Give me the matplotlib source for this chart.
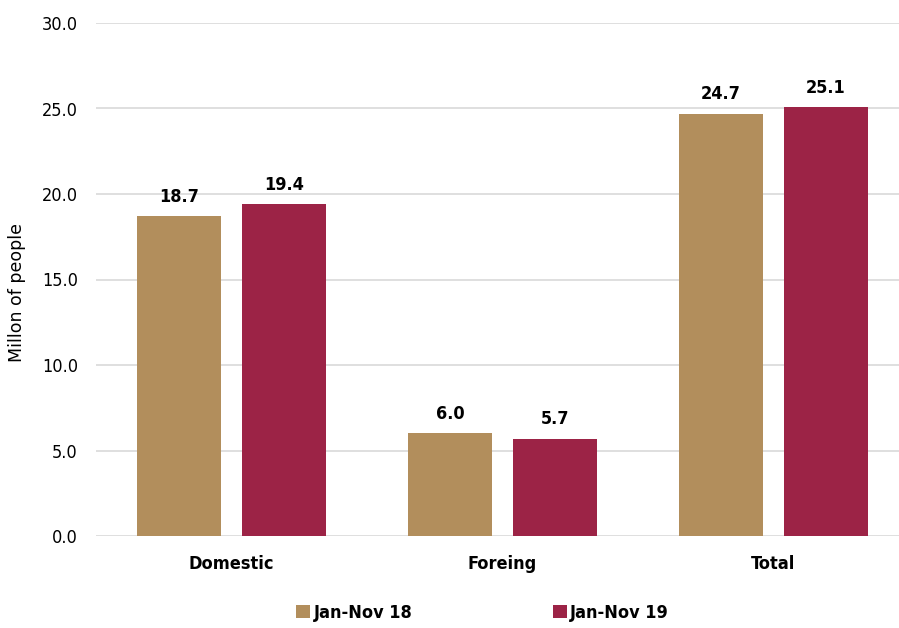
import matplotlib.pyplot as plt
import numpy as np
from matplotlib import font_manager

# data
categories = ['Domestic', 'Foreing', 'Total']
jan_nov_18 = [18.7, 6.0, 24.7]
jan_nov_19 = [19.4, 5.7, 25.1]
series_names = ['Jan-Nov 18', 'Jan-Nov 19']

# condensed font for labels
names = {f.name for f in font_manager.fontManager.ttflist}
narrow = 'Liberation Sans Narrow' if 'Liberation Sans Narrow' in names else 'DejaVu Sans'
fam = [narrow, 'DejaVu Sans']
st = 'condensed'

c18 = '#B28E5C'
c19 = '#9C2346'

fig = plt.figure(figsize=(8.99, 6.28), dpi=100)
ax = fig.add_axes([96/899, 1 - 536/628, 803/899, (536 - 23)/628])

x = np.arange(len(categories))
w = 0.31
off = 0.194
b1 = ax.bar(x - off, jan_nov_18, w, color=c18, label=series_names[0], zorder=3)
b2 = ax.bar(x + off, jan_nov_19, w, color=c19, label=series_names[1], zorder=3)

for bars, vals in [(b1, jan_nov_18), (b2, jan_nov_19)]:
    for rect, v in zip(bars, vals):
        ax.text(rect.get_x() + rect.get_width() / 2, v + 0.6, f'{v:.1f}',
                ha='center', va='bottom', fontsize=13, fontweight='bold',
                family=fam, fontstretch=st, zorder=4)

ax.set_ylim(0, 30)
ax.set_xlim(-0.5, 803/271 - 0.5)
ax.set_yticks(np.arange(0, 31, 5))
ax.set_yticklabels([f'{v:.1f}' for v in np.arange(0, 31, 5)], family=fam,
                   fontstretch=st, fontsize=13)
ax.set_xticks(x)
ax.set_xticklabels(categories, family=fam, fontstretch=st, fontsize=13, fontweight='bold')
ax.tick_params(axis='both', length=0)
ax.tick_params(axis='y', pad=13)
ax.tick_params(axis='x', pad=14)
ax.yaxis.grid(True, color='#D9D9D9', linewidth=1.2, zorder=0)
for s in ax.spines.values():
    s.set_visible(False)

fig.text(17/899, 1 - 293/628, 'Millon of people', rotation=90, ha='center', va='center',
         fontsize=12.5)

leg = fig.legend(handles=[b1, b2], loc='center', bbox_to_anchor=(0.537, 1 - 613/628),
                 ncol=2, frameon=False,
                 prop={'family': fam, 'size': 13, 'weight': 'bold', 'stretch': st},
                 handlelength=0.75, handleheight=0.75, handletextpad=0.2,
                 columnspacing=7.8)

fig.savefig('out.png', dpi=100)
